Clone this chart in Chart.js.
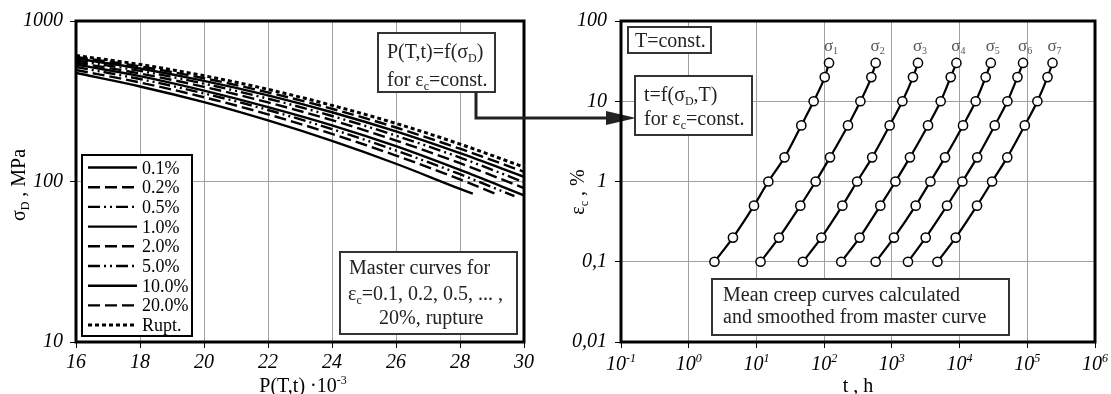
<!DOCTYPE html>
<html>
<head>
<meta charset="utf-8">
<script src="https://cdn.jsdelivr.net/npm/chart.js@4.4.1/dist/chart.umd.min.js"></script>
<style>
  html, body { margin: 0; padding: 0; background: #fff; }
  #wrap { position: relative; width: 1111px; height: 394px; }
  #wrap canvas { position: absolute; left: 0; top: 0; }
</style>
</head>
<body>
<div id="wrap">
  <canvas id="masterChart" width="1111" height="394"></canvas>
  <canvas id="creepChart" width="1111" height="394"></canvas>
</div>
<script>
// ---- left: master curves, stress vs. parameter P(T,t) ----
const pGrid = [16, 18, 20, 22, 24, 26, 28, 30];
const curveLabels = ['0.1%', '0.2%', '0.5%', '1.0%', '2.0%', '5.0%', '10.0%', '20.0%', 'Rupt.'];
const curveEnds = [28.4, 29.1, 29.7, 30, 30, 30, 30, 30, 30];   // last P of each curve
const s01  = [474, 391, 312, 240, 179, 129, 90, 84];
const s02  = [495, 414, 335, 262, 198, 145, 103, 84];
const s05  = [517, 435, 354, 279, 212, 156, 111, 81];
const s1   = [536, 453, 368, 291, 224, 166, 118, 82];
const s2   = [551, 471, 389, 311, 241, 180, 130, 91];
const s5   = [567, 489, 407, 328, 256, 193, 141, 99];
const s10  = [584, 506, 424, 344, 270, 205, 150, 107];
const s20  = [597, 521, 440, 359, 284, 217, 160, 115];
const sRup = [610, 536, 456, 375, 298, 230, 171, 123];
const leftYTicks = [10, 100, 1000];

// ---- right: creep curves, strain vs. time ----
const epsLevels = [0.1, 0.2, 0.5, 1, 2, 5, 10, 20, 30];
const t1 = [2.4, 4.5, 9.2, 15, 26, 46, 70, 102, 118];
const t2 = [11.5, 21.5, 44.5, 75, 122, 225, 343, 498, 577];
const t3 = [48.6, 91, 186, 307, 512, 929, 1430, 2050, 2430];
const t4 = [179, 334, 676, 1130, 1850, 3420, 5260, 7400, 8980];
const t5 = [577, 1075, 2250, 3710, 6100, 11250, 17300, 24300, 28900];
const t6 = [1730, 3160, 6530, 11000, 18200, 33100, 50900, 71600, 86600];
const t7 = [4710, 8770, 18100, 30200, 50600, 91800, 141000, 199000, 236000];
const sigmaIdx = ['1', '2', '3', '4', '5', '6', '7'];
const rightYTicks = [0.01, 0.1, 1, 10, 100];
const rightYLabels = ['0,01', '0,1', '1', '10', '100'];
const rightXExp = [-1, 0, 1, 2, 3, 4, 5, 6];

const SERIF = '"Liberation Serif", "Times New Roman", serif';
Chart.defaults.font.family = SERIF;

function fontFor(kind, size, italic) {
  const s = kind ? Math.round(size * 0.6) : size;
  return (italic ? 'italic ' : '') + s + 'px ' + SERIF;
}
// parts: [text, ''|'sub'|'sup'], y is the baseline
function drawRich(ctx, parts, x, y, size, opts = {}) {
  const italic = !!opts.italic;
  let w = 0;
  parts.forEach(([t, k]) => { ctx.font = fontFor(k, size, italic); w += ctx.measureText(t).width; });
  let cx = opts.align === 'center' ? x - w / 2 : (opts.align === 'right' ? x - w : x);
  ctx.textAlign = 'left';
  ctx.textBaseline = 'alphabetic';
  parts.forEach(([t, k]) => {
    ctx.font = fontFor(k, size, italic);
    const dy = k === 'sub' ? size * 0.2 : (k === 'sup' ? -size * 0.4 : 0);
    ctx.fillText(t, cx, y + dy);
    cx += ctx.measureText(t).width;
  });
}
function box(ctx, x, y, w, h, color) {
  ctx.setLineDash([]);
  ctx.fillStyle = '#fff';
  ctx.fillRect(x, y, w, h);
  ctx.strokeStyle = color;
  ctx.lineWidth = 2;
  ctx.strokeRect(x, y, w, h);
}

const solid = [], dashed = [12, 5], dashDotDot = [12, 4, 2, 4, 2, 4], dotted = [4, 3];
const curveStyles = [solid, dashed, dashDotDot, solid, dashed, dashDotDot, solid, dashed, dotted];
const curveValues = [s01, s02, s05, s1, s2, s5, s10, s20, sRup];

const masterDatasets = curveValues.map((vals, k) => ({
  label: curveLabels[k],
  data: vals.map((v, i) => ({ x: i === vals.length - 1 ? curveEnds[k] : pGrid[i], y: v })),
  borderColor: '#000',
  borderWidth: k === 8 ? 3 : 2.4,
  borderDash: curveStyles[k],
  pointRadius: 0,
  fill: false,
  cubicInterpolationMode: 'monotone'
}));

const masterDecor = {
  id: 'masterDecor',
  afterDraw(chart) {
    const { ctx, chartArea: a } = chart;
    ctx.save();
    ctx.setLineDash([]);
    ctx.strokeStyle = '#000';
    ctx.lineWidth = 3;
    ctx.strokeRect(a.left, a.top, a.right - a.left, a.bottom - a.top);

    // legend
    box(ctx, 82, 155, 110, 181, '#000');
    chart.data.datasets.forEach((ds, i) => {
      const y = 167.5 + i * 19.7;
      ctx.beginPath();
      ctx.setLineDash(ds.borderDash);
      ctx.lineWidth = ds.borderWidth;
      ctx.strokeStyle = '#000';
      ctx.moveTo(88, y); ctx.lineTo(137, y);
      ctx.stroke();
      ctx.setLineDash([]);
      ctx.fillStyle = '#000';
      drawRich(ctx, [[ds.label, '']], 142, y + 6, 18);
    });

    // text boxes
    box(ctx, 340, 252, 177, 82, '#333');
    ctx.fillStyle = '#222';
    drawRich(ctx, [['Master curves for', '']], 349, 274, 20);
    drawRich(ctx, [['\u03b5', ''], ['c', 'sub'], ['=0.1, 0.2, 0.5, ... ,', '']], 348, 300, 20);
    drawRich(ctx, [['20%, rupture', '']], 379, 324, 20);

    box(ctx, 378, 33, 117, 59, '#333');
    ctx.fillStyle = '#222';
    drawRich(ctx, [['P(T,t)=f(\u03c3', ''], ['D', 'sub'], [')', '']], 387, 58, 20);
    drawRich(ctx, [['for \u03b5', ''], ['c', 'sub'], ['=const.', '']], 387, 86, 20);

    // arrow to the right panel
    ctx.strokeStyle = '#222';
    ctx.fillStyle = '#222';
    ctx.lineWidth = 3;
    ctx.beginPath();
    ctx.moveTo(476, 92); ctx.lineTo(476, 118); ctx.lineTo(610, 118);
    ctx.stroke();
    ctx.beginPath();
    ctx.moveTo(606, 111); ctx.lineTo(636, 118); ctx.lineTo(606, 125); ctx.closePath();
    ctx.fill();

    // axis titles
    ctx.fillStyle = '#000';
    drawRich(ctx, [['P(T,t) \u00b710', ''], ['-3', 'sup']], 303, 392, 20, { align: 'center' });
    ctx.translate(18, 185);
    ctx.rotate(-Math.PI / 2);
    drawRich(ctx, [['\u03c3', ''], ['D', 'sub'], [' , MPa', '']], 0, 7, 20, { align: 'center' });
    ctx.restore();
  }
};

new Chart(document.getElementById('masterChart'), {
  type: 'line',
  data: { datasets: masterDatasets },
  options: {
    responsive: false,
    animation: false,
    devicePixelRatio: 1,
    layout: { padding: { left: 0, top: 21, right: 587, bottom: 0 } },
    plugins: { legend: { display: false }, tooltip: { enabled: false } },
    scales: {
      x: {
        type: 'linear', min: 16, max: 30,
        afterFit: s => { s.height = 52; },
        ticks: { stepSize: 2, color: '#000', padding: 3, font: { size: 20, style: 'italic' } },
        grid: { color: '#a0a0a0', lineWidth: 1, tickColor: '#000', tickLength: 6 },
        border: { display: false }
      },
      y: {
        type: 'logarithmic', min: 10, max: 1000,
        afterFit: s => { s.width = 76; },
        afterBuildTicks: s => { s.ticks = leftYTicks.map(v => ({ value: v })); },
        ticks: { callback: v => String(v), color: '#000', padding: 7, font: { size: 20, style: 'italic' } },
        grid: { color: '#a0a0a0', lineWidth: 1, tickColor: '#000', tickLength: 6 },
        border: { display: false }
      }
    }
  },
  plugins: [masterDecor]
});

// ---- right chart ----
const creepTimes = [t1, t2, t3, t4, t5, t6, t7];
const creepDatasets = creepTimes.map((ts, k) => ({
  label: '\u03c3' + sigmaIdx[k],
  data: ts.map((t, i) => ({ x: t, y: epsLevels[i] })),
  borderColor: '#000',
  borderWidth: 2.2,
  pointRadius: 4.6,
  pointBackgroundColor: '#fff',
  pointBorderColor: '#000',
  pointBorderWidth: 1.5,
  fill: false,
  cubicInterpolationMode: 'monotone'
}));

const creepDecor = {
  id: 'creepDecor',
  afterDraw(chart) {
    const { ctx, chartArea: a } = chart;
    ctx.save();
    ctx.setLineDash([]);
    ctx.strokeStyle = '#000';
    ctx.lineWidth = 3;
    ctx.strokeRect(a.left, a.top, a.right - a.left, a.bottom - a.top);

    // x tick labels 10^n
    ctx.fillStyle = '#000';
    const xs = chart.scales.x;
    rightXExp.forEach(e => {
      const px = xs.getPixelForValue(Math.pow(10, e));
      drawRich(ctx, [['10', ''], [String(e), 'sup']], px, 370, 20, { align: 'center', italic: true });
    });

    // stress labels above each curve
    ctx.fillStyle = '#555';
    chart.data.datasets.forEach((ds, i) => {
      const pts = chart.getDatasetMeta(i).data;
      const top = pts[pts.length - 1];
      drawRich(ctx, [['\u03c3', ''], [sigmaIdx[i], 'sub']], top.x + 2, 51, 17, { align: 'center' });
    });

    // text boxes
    box(ctx, 628, 27, 83, 26, '#333');
    ctx.fillStyle = '#222';
    drawRich(ctx, [['T=const.', '']], 635, 47, 20);

    box(ctx, 635, 76, 117, 59, '#333');
    ctx.fillStyle = '#222';
    drawRich(ctx, [['t=f(\u03c3', ''], ['D', 'sub'], [',T)', '']], 644, 101, 20);
    drawRich(ctx, [['for \u03b5', ''], ['c', 'sub'], ['=const.', '']], 644, 125, 20);

    box(ctx, 712, 279, 297, 56, '#333');
    ctx.fillStyle = '#222';
    drawRich(ctx, [['Mean creep curves calculated', '']], 723, 301, 20);
    drawRich(ctx, [['and smoothed from master curve', '']], 723, 323, 20);

    // axis titles
    ctx.fillStyle = '#000';
    drawRich(ctx, [['t , h', '']], 858, 392, 20, { align: 'center' });
    ctx.translate(577, 192);
    ctx.rotate(-Math.PI / 2);
    drawRich(ctx, [['\u03b5', ''], ['c', 'sub'], [' , %', '']], 0, 7, 20, { align: 'center' });
    ctx.restore();
  }
};

new Chart(document.getElementById('creepChart'), {
  type: 'line',
  data: { datasets: creepDatasets },
  options: {
    responsive: false,
    animation: false,
    devicePixelRatio: 1,
    layout: { padding: { left: 561, top: 21, right: 16, bottom: 0 } },
    plugins: { legend: { display: false }, tooltip: { enabled: false } },
    scales: {
      x: {
        type: 'logarithmic', min: 0.1, max: 1e6,
        afterFit: s => { s.height = 52; },
        afterBuildTicks: s => { s.ticks = rightXExp.map(e => ({ value: Math.pow(10, e) })); },
        ticks: { callback: () => '', autoSkip: false },
        grid: { color: '#a0a0a0', lineWidth: 1, tickColor: '#000', tickLength: 6 },
        border: { display: false }
      },
      y: {
        type: 'logarithmic', min: 0.01, max: 100,
        afterFit: s => { s.width = 60; },
        afterBuildTicks: s => { s.ticks = rightYTicks.map(v => ({ value: v })); },
        ticks: {
          callback: v => rightYLabels[rightYTicks.indexOf(v)] ?? '',
          color: '#000', padding: 8, font: { size: 20, style: 'italic' }
        },
        grid: { color: '#a0a0a0', lineWidth: 1, tickColor: '#000', tickLength: 6 },
        border: { display: false }
      }
    }
  },
  plugins: [creepDecor]
});
</script>
</body>
</html>
